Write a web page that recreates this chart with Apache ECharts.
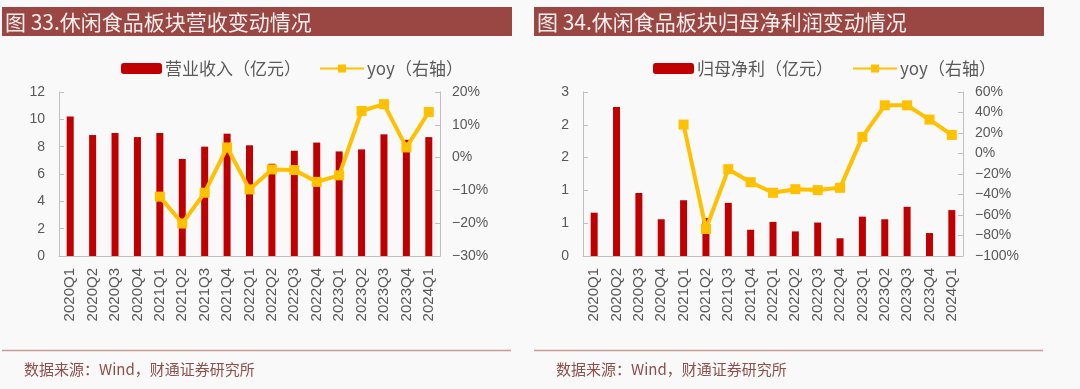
<!DOCTYPE html>
<html>
<head>
<meta charset="utf-8">
<script src="https://cdn.jsdelivr.net/npm/echarts@6/dist/echarts.min.js"></script>
<style>
html,body{margin:0;padding:0;background:#f9f9f9;}
#c{width:1080px;height:389px;}
</style>
</head>
<body>
<div id="c"></div>
<script>
const categories = ['2020Q1','2020Q2','2020Q3','2020Q4','2021Q1','2021Q2','2021Q3','2021Q4','2022Q1','2022Q2','2022Q3','2022Q4','2023Q1','2023Q2','2023Q3','2023Q4','2024Q1'];
const revenue = [10.2, 8.85, 9.0, 8.7, 9.0, 7.1, 8.0, 8.95, 8.1, 6.75, 7.7, 8.3, 7.65, 7.8, 8.9, 8.5, 8.7];
const revenueYoy = [null, null, null, null, -11.9, -20.1, -10.7, 3.1, -9.7, -3.6, -3.8, -7.4, -5.4, 14.2, 16.3, 3.1, 13.9];
const profit = [0.66, 2.27, 0.96, 0.56, 0.85, 0.58, 0.81, 0.40, 0.52, 0.375, 0.51, 0.27, 0.60, 0.56, 0.75, 0.35, 0.70];
const profitYoy = [null, null, null, null, 28.2, -73.7, -15.3, -28.0, -38.3, -34.8, -35.7, -33.5, 16.2, 47.0, 47.0, 33.1, 18.1];
const title1 = '图 33.休闲食品板块营收变动情况';
const title2 = '图 34.休闲食品板块归母净利润变动情况';
const source = '数据来源：Wind，财通证券研究所';
const barName1 = '营业收入（亿元）';
const barName2 = '归母净利（亿元）';
const lineName1 = 'yoy（右轴）';
const lineName2 = 'yoy（右轴） ';

const gray = '#595959';
const axisGray = '#bfbfbf';
const barColor = '#c00000';
const lineColor = '#ffc000';
const cjk = '"Noto Sans CJK SC", sans-serif';
const latin = '"Liberation Sans", Arial, sans-serif';
const minusFix = s => String(s).replace('-', '\u2212');

function xAxis(gi){
  return {
    type:'category', gridIndex:gi, data:categories,
    axisLine:{lineStyle:{color:axisGray,width:1}},
    axisTick:{show:false},
    axisLabel:{rotate:90, fontSize:15, color:gray, fontFamily:latin, margin:12, interval:0}
  };
}
function yAxis(gi, pos, min, max, interval, fmt, margin){
  return {
    type:'value', gridIndex:gi, position:pos, min:min, max:max, interval:interval,
    splitLine:{show:false},
    axisLine:{show:true, lineStyle:{color:axisGray,width:1}},
    axisTick:{show:true, inside:true, length:5, lineStyle:{color:axisGray}},
    axisLabel:{fontSize:14, color:gray, fontFamily:latin, margin:margin, formatter:fmt}
  };
}
function legend(name, left, isLine){
  return {
    data:[name], left:left, top:60, itemWidth: isLine ? 44 : 41, itemHeight: isLine ? 10 : 11,
    itemGap:0, padding:0,
    textStyle:{fontSize:17, color:gray, fontFamily:cjk, padding:[0,0,0,-2]},
    selectedMode:false
  };
}
const chart = echarts.init(document.getElementById('c'), null, {renderer:'canvas'});
const option = {
  backgroundColor:'#f9f9f9',
  animation:false,
  grid:[
    {left:59, right:640, top:92, bottom:133},
    {left:583, right:117, top:92, bottom:133}
  ],
  legend:[
    legend(barName1, 121, false),
    legend(lineName1, 319, true),
    legend(barName2, 653, false),
    legend(lineName2, 852, true)
  ],
  xAxis:[xAxis(0), xAxis(1)],
  yAxis:[
    yAxis(0,'left',0,12,2,v=>String(v),14),
    yAxis(0,'right',-30,20,10,v=>minusFix(v+'%'),12),
    yAxis(1,'left',0,2.5,0.5,v=>String(Math.round(v)),14),
    yAxis(1,'right',-100,60,20,v=>minusFix(v+'%'),12)
  ],
  series:[
    {name:barName1, type:'bar', xAxisIndex:0, yAxisIndex:0, data:revenue, barWidth:7, itemStyle:{color:barColor}},
    {name:lineName1, type:'line', xAxisIndex:0, yAxisIndex:1, data:revenueYoy, symbol:'rect', symbolSize:10,
     lineStyle:{color:lineColor,width:4}, itemStyle:{color:lineColor}, connectNulls:false},
    {name:barName2, type:'bar', xAxisIndex:1, yAxisIndex:2, data:profit, barWidth:7, itemStyle:{color:barColor}},
    {name:lineName2, type:'line', xAxisIndex:1, yAxisIndex:3, data:profitYoy, symbol:'rect', symbolSize:10,
     lineStyle:{color:lineColor,width:4}, itemStyle:{color:lineColor}, connectNulls:false}
  ],
  graphic:[
    {type:'rect', shape:{x:2, y:7, width:510, height:29}, style:{fill:'#9a4642'}},
    {type:'text', x:5, y:22, style:{text:title1, fill:'#f7eeee', fontSize:21, fontFamily:cjk, verticalAlign:'middle'}},
    {type:'rect', shape:{x:534, y:7, width:510, height:29}, style:{fill:'#9a4642'}},
    {type:'text', x:537, y:22, style:{text:title2, fill:'#f7eeee', fontSize:21, fontFamily:cjk, verticalAlign:'middle'}},
    {type:'line', shape:{x1:2, y1:350.5, x2:511, y2:350.5}, style:{stroke:'#cc9a96', lineWidth:1.5}},
    {type:'line', shape:{x1:534, y1:350.5, x2:1043, y2:350.5}, style:{stroke:'#cc9a96', lineWidth:1.5}},
    {type:'text', x:24, y:369, style:{text:source, fill:'#8e4f4a', fontSize:15, fontFamily:cjk, verticalAlign:'middle'}},
    {type:'text', x:556, y:369, style:{text:source, fill:'#8e4f4a', fontSize:15, fontFamily:cjk, verticalAlign:'middle'}}
  ]
};
chart.setOption(option);
</script>
</body>
</html>
